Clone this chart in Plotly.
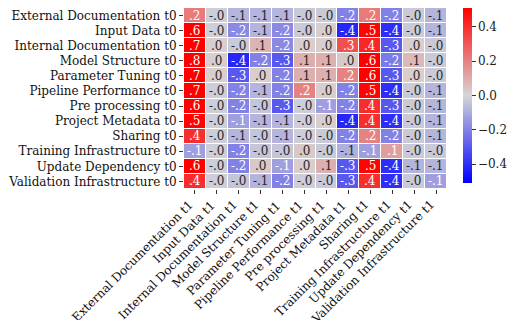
import plotly.graph_objects as go

categories = ["External Documentation", "Input Data", "Internal Documentation",
              "Model Structure", "Parameter Tuning", "Pipeline Performance",
              "Pre processing", "Project Metadata", "Sharing",
              "Training Infrastructure", "Update Dependency", "Validation Infrastructure"]
row_labels = [c + " t0" for c in categories]
col_labels = [c + " t1" for c in categories]

values = [
    [0.22, -0.02, -0.08, -0.08, -0.08, -0.03, -0.03, -0.20, 0.22, -0.20, -0.03, -0.08],
    [0.60, -0.02, -0.18, -0.08, -0.18, -0.03, 0.02, -0.42, 0.50, -0.40, -0.03, -0.08],
    [0.70, 0.02, -0.03, 0.08, -0.18, 0.02, 0.02, 0.32, 0.42, -0.30, 0.02, -0.03],
    [0.80, 0.02, -0.42, -0.20, -0.30, 0.09, 0.09, 0.03, 0.60, -0.22, 0.07, -0.03],
    [0.70, 0.02, -0.30, 0.02, -0.20, 0.09, 0.09, 0.20, 0.60, -0.30, 0.02, -0.03],
    [0.70, -0.02, -0.20, -0.08, -0.20, 0.20, 0.02, -0.20, 0.50, -0.40, -0.03, -0.08],
    [0.60, -0.02, -0.20, -0.04, -0.30, -0.02, -0.13, -0.20, 0.40, -0.30, -0.03, -0.08],
    [0.50, -0.02, -0.13, -0.08, -0.08, -0.02, 0.02, -0.42, 0.40, -0.40, -0.03, -0.08],
    [0.40, -0.02, -0.08, -0.04, -0.08, -0.02, -0.03, -0.20, 0.20, -0.20, -0.03, -0.08],
    [-0.13, -0.02, -0.20, -0.04, -0.04, 0.03, -0.03, -0.09, -0.13, 0.13, -0.03, -0.03],
    [0.60, -0.02, -0.20, 0.03, -0.13, 0.02, 0.09, -0.30, 0.50, -0.40, -0.08, -0.08],
    [0.40, -0.02, -0.04, -0.08, -0.20, -0.02, -0.03, -0.30, 0.40, -0.40, -0.03, -0.13],
]
cbar_ticks = [-0.4, -0.2, 0.0, 0.2, 0.4]
cbar_ticktext = ["\u22120.4", "\u22120.2", "0.0", "0.2", "0.4"]


def fmt(v):
    s = f"{v:.1f}"
    return s.replace("0.", ".")


text = [[fmt(v) for v in row] for row in values]
FONT = "DejaVu Serif"

fig = go.Figure()
fig.add_trace(go.Heatmap(
    z=values, x=col_labels, y=row_labels,
    zmin=-0.51, zmax=0.51,
    colorscale=[[0, "#0000ff"], [0.5, "#d6d6d6"], [1, "#ff0000"]],
    xgap=1, ygap=1,
    showscale=True,
    colorbar=dict(
        thickness=9, lenmode="pixels", len=175,
        x=1.0627, xanchor="left", xpad=0,
        y=1.0, yanchor="top", ypad=0,
        outlinewidth=0,
        tickvals=cbar_ticks, ticktext=cbar_ticktext,
        ticks="outside", ticklen=4, tickcolor="#333",
        tickfont=dict(family=FONT, size=12, color="#222"),
    ),
    hoverinfo="skip",
))

for i, row in enumerate(values):
    for j, v in enumerate(row):
        fig.add_annotation(
            x=j, y=i, text=text[i][j], showarrow=False,
            font=dict(family=FONT, size=12,
                      color="white" if abs(v) > 0.12 else "#262626"),
        )

# rotated x tick labels, right/top aligned like matplotlib (ha='right')
for j, lab in enumerate(col_labels):
    fig.add_annotation(
        x=j, xref="x", y=0, yref="paper", text=lab, showarrow=False,
        textangle=-45, xanchor="right", yanchor="top", yshift=-6, xshift=4,
        font=dict(family=FONT, size=12, color="#111"),
    )

fig.update_layout(
    width=508, height=312,
    margin=dict(l=168, r=69, t=0, b=131),
    paper_bgcolor="white", plot_bgcolor="white",
    font=dict(family=FONT, size=12, color="#111"),
)
fig.update_xaxes(showticklabels=False, ticks="outside", ticklen=4, tickcolor="#333",
                 showgrid=False, zeroline=False, autorange=False,
                 range=[-0.5, len(col_labels) - 0.5],
                 categoryorder="array", categoryarray=col_labels)
fig.update_yaxes(ticks="outside", ticklen=4, tickcolor="#333",
                 showgrid=False, zeroline=False, autorange=False,
                 range=[len(row_labels) - 0.5, -0.5],
                 categoryorder="array", categoryarray=row_labels,
                 tickfont=dict(family=FONT, size=12))

fig.write_html("out.html")
